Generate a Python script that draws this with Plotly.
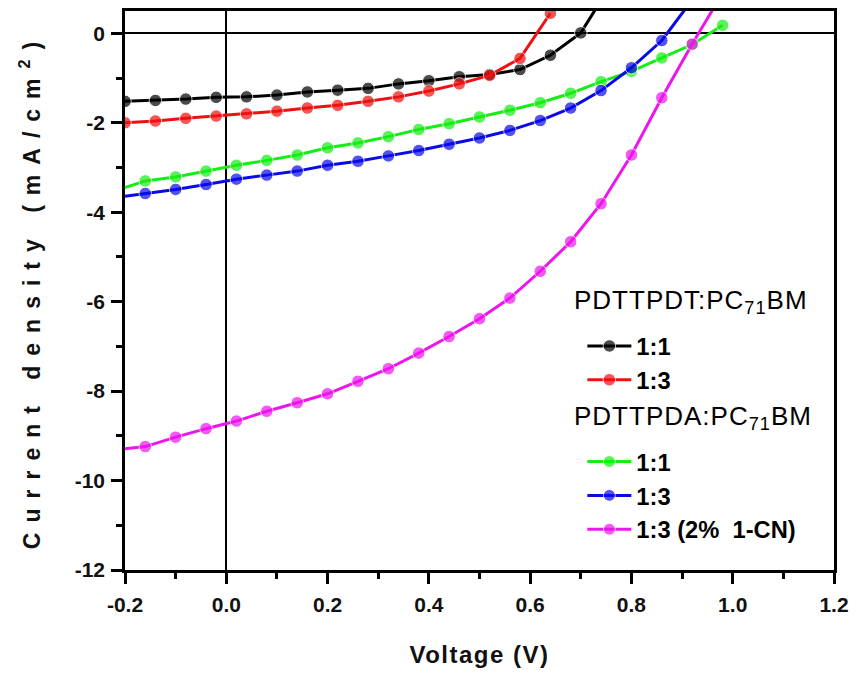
import plotly.graph_objects as go

# ---- data ----
V_pdt = [-0.20, -0.14, -0.08, -0.02, 0.04, 0.10, 0.16, 0.22, 0.28, 0.34,
         0.40, 0.46, 0.52, 0.58, 0.64, 0.70, 0.76]
J_pdt_11 = [-1.52, -1.50, -1.47, -1.43, -1.42, -1.38, -1.31, -1.27, -1.23, -1.13,
            -1.06, -0.97, -0.92, -0.81, -0.49, 0.01, 1.10]
V_pdt_13 = [-0.20, -0.14, -0.08, -0.02, 0.04, 0.10, 0.16, 0.22, 0.28, 0.34,
            0.40, 0.46, 0.52, 0.58, 0.64]
J_pdt_13 = [-2.00, -1.96, -1.90, -1.85, -1.80, -1.74, -1.67, -1.61, -1.52, -1.42,
            -1.29, -1.13, -0.94, -0.56, 0.45]

V_pda = [-0.20, -0.16, -0.10, -0.04, 0.02, 0.08, 0.14, 0.20, 0.26, 0.32, 0.38,
         0.44, 0.50, 0.56, 0.62, 0.68, 0.74, 0.80, 0.86, 0.92, 0.98]
J_pda_11 = [-3.45, -3.30, -3.21, -3.08, -2.95, -2.84, -2.72, -2.56, -2.45, -2.31, -2.15,
            -2.02, -1.87, -1.72, -1.55, -1.34, -1.08, -0.85, -0.55, -0.25, 0.18]
V_pda_13 = [-0.20, -0.16, -0.10, -0.04, 0.02, 0.08, 0.14, 0.20, 0.26, 0.32, 0.38,
            0.44, 0.50, 0.56, 0.62, 0.68, 0.74, 0.80, 0.86, 0.92]
J_pda_13 = [-3.64, -3.58, -3.49, -3.38, -3.26, -3.17, -3.08, -2.95, -2.86, -2.74, -2.62,
            -2.48, -2.34, -2.17, -1.95, -1.67, -1.28, -0.77, -0.16, 0.75]
J_pda_13cn = [-9.29, -9.24, -9.03, -8.84, -8.67, -8.45, -8.26, -8.06, -7.78, -7.50, -7.15,
              -6.78, -6.38, -5.92, -5.32, -4.66, -3.81, -2.72, -1.44, -0.24, 0.90]

x_tickvals = [-0.2, 0.0, 0.2, 0.4, 0.6, 0.8, 1.0, 1.2]
x_ticktext = ["-0.2", "0.0", "0.2", "0.4", "0.6", "0.8", "1.0", "1.2"]
y_tickvals = [-12, -10, -8, -6, -4, -2, 0]
y_ticktext = ["-12", "-10", "-8", "-6", "-4", "-2", "0"]

group_titles = ["PDTTPDT:PC<sub>71</sub>BM", "PDTTPDA:PC<sub>71</sub>BM"]

FONT = "Liberation Sans, Arial, sans-serif"
MS = 12.5


def sizes(n, first_marker=True):
    s = [MS] * n
    if not first_marker:
        s[0] = 0
    return s


series = [
    dict(x=V_pdt, y=J_pdt_11, name="1:1", color="#000000", group="g1", first=True),
    dict(x=V_pdt_13, y=J_pdt_13, name="1:3", color="#f01010", group="g1", first=True),
    dict(x=V_pda, y=J_pda_11, name="1:1", color="#14ee14", group="g2", first=False),
    dict(x=V_pda_13, y=J_pda_13, name="1:3", color="#0a0ae8", group="g2", first=False),
    dict(x=V_pda, y=J_pda_13cn, name="1:3 (2%  1-CN)", color="#ee14ee", group="g2", first=False),
]

fig = go.Figure()
for s in series:
    fig.add_trace(go.Scatter(
        x=s["x"], y=s["y"], mode="lines+markers", name=s["name"],
        line=dict(color=s["color"], width=3),
        marker=dict(color=s["color"], size=sizes(len(s["x"]), s["first"]), symbol="circle"),
        legendgroup=s["group"],
    ))

axis_common = dict(
    showline=True, linecolor="#000", linewidth=2.5, mirror=True,
    ticks="outside", ticklen=11, tickwidth=2.5, tickcolor="#000",
    showgrid=False, zeroline=True, zerolinecolor="#000", zerolinewidth=2.2,
    tickfont=dict(size=21, family=FONT, color="#111", weight="bold"),
)

fig.update_xaxes(
    range=[-0.2, 1.2], tickmode="array", tickvals=x_tickvals, ticktext=x_ticktext,
    minor=dict(tickmode="array", tickvals=[-0.1, 0.1, 0.3, 0.5, 0.7, 0.9, 1.1],
               ticks="outside", ticklen=6, tickwidth=2.5, tickcolor="#000"),
    ticklabelstandoff=3,
    title=dict(text='<span style="letter-spacing:1.5px">Voltage (V)</span>',
               font=dict(size=24, family=FONT, color="#111", weight="bold"), standoff=32),
    **axis_common,
)
fig.update_yaxes(
    range=[-12, 0.5], tickmode="array", tickvals=y_tickvals, ticktext=y_ticktext,
    minor=dict(tickmode="array", tickvals=[-11, -9, -7, -5, -3, -1],
               ticks="outside", ticklen=6, tickwidth=2.5, tickcolor="#000"),
    ticklabelstandoff=2,
    title=dict(text='<span style="letter-spacing:10px">Current density (mA/cm<sup>2</sup>)</span>',
               font=dict(size=23, family=FONT, color="#111", weight="bold"), standoff=28),
    **axis_common,
)

# legend group headings
for txt, yy in zip(group_titles, [0.4804, 0.2722]):
    fig.add_annotation(
        text='<span style="letter-spacing:1px">' + txt + '</span>',
        xref="paper", yref="paper", x=0.631, y=yy, xanchor="left", yanchor="middle",
        showarrow=False, font=dict(size=26, family=FONT, color="#000"),
    )

fig.update_layout(
    width=857, height=679,
    margin=dict(l=125, r=22, t=8, b=109),
    paper_bgcolor="white", plot_bgcolor="white",
    showlegend=True,
    legend=dict(x=(583 - 125) / 710, y=0.440, xanchor="left", yanchor="top",
                bgcolor="rgba(0,0,0,0)", traceorder="grouped", tracegroupgap=48,
                font=dict(size=23.7, family=FONT, color="#000", weight="bold"),
                itemwidth=44),
)

fig.write_html("out.html", config={"displayModeBar": False},
               post_script="document.body.style.margin='0px';")
